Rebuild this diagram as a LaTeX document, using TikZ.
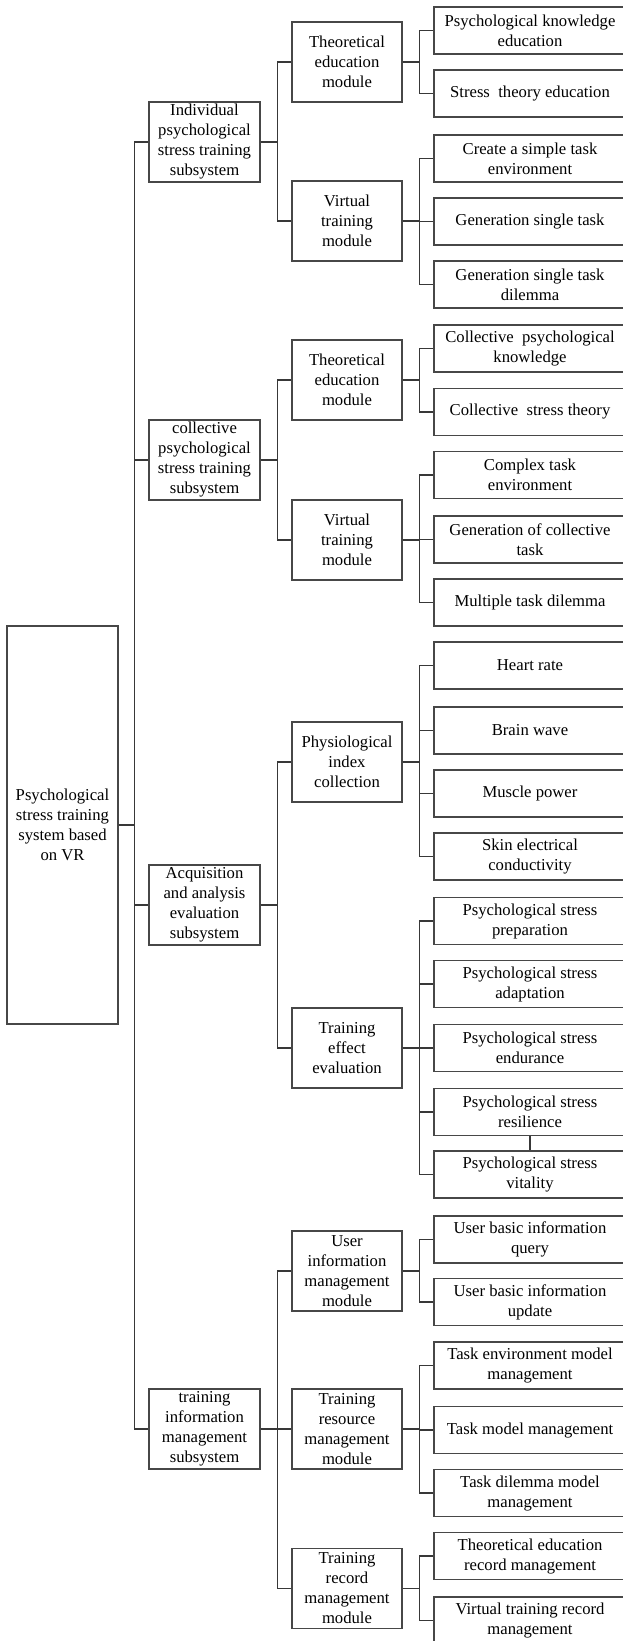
\documentclass[tikz,border=0pt]{standalone}
\usepackage{fontspec}
\setmainfont{Liberation Serif}
\newcommand\linkto[3]{\draw[conn] (#1.east) -- ++(#3,0) |- (#2.west);}
\begin{document}
\begin{tikzpicture}[x=0.75pt,y=-0.75pt,
  box/.style={draw=black!72, line width=0.9pt, align=center, inner sep=1pt,
    font=\fontsize{12.5}{15}\selectfont},
  rootbox/.style={box, minimum width=83.25pt, minimum height=298.5pt},
  subbox/.style={box, minimum width=83.25pt, minimum height=60pt},
  modbox/.style={box, minimum width=82.5pt, minimum height=60pt},
  leafbox/.style={box, minimum width=144pt, minimum height=35.25pt},
  conn/.style={draw=black!78, line width=1.2pt},
]
\useasboundingbox (0,0) rectangle (623,1641);
\clip (0,0) rectangle (623,1641);

% root
\node[rootbox] (root) at (62.5,825) {Psychological\\stress training\\system based\\on VR};

% subsystems
\node[subbox] (s1) at (204.5,142) {Individual\\psychological\\stress training\\subsystem};
\node[subbox] (s2) at (204.5,460) {collective\\psychological\\stress training\\subsystem};
\node[subbox] (s3) at (204.5,905) {Acquisition\\and analysis\\evaluation\\subsystem};
\node[subbox] (s4) at (204.5,1429) {training\\information\\management\\subsystem};

% modules
\node[modbox] (m1) at (347,62) {Theoretical\\education\\module};
\node[modbox] (m2) at (347,221) {Virtual\\training\\module};
\node[modbox] (m3) at (347,380) {Theoretical\\education\\module};
\node[modbox] (m4) at (347,540) {Virtual\\training\\module};
\node[modbox] (m5) at (347,762) {Physiological\\index\\collection};
\node[modbox] (m6) at (347,1048) {Training\\effect\\evaluation};
\node[modbox] (m7) at (347,1271) {User\\information\\management\\module};
\node[modbox] (m8) at (347,1429) {Training\\resource\\management\\module};
\node[modbox] (m9) at (347,1588.5) {Training\\record\\management\\module};

% leaves
\node[leafbox] (l1) at (530,30.5) {Psychological knowledge\\education};
\node[leafbox] (l2) at (530,93.5) {Stress\ \ theory education};
\node[leafbox] (l3) at (530,158.5) {Create a simple task\\environment};
\node[leafbox] (l4) at (530,221.5) {Generation single task};
\node[leafbox] (l5) at (530,284.5) {Generation single task\\dilemma};
\node[leafbox] (l6) at (530,348.5) {Collective\ \ psychological\\knowledge};
\node[leafbox] (l7) at (530,412) {Collective\ \ stress theory};
\node[leafbox] (l8) at (530,475) {Complex task\\environment};
\node[leafbox] (l9) at (530,539.5) {Generation of collective\\task};
\node[leafbox] (l10) at (530,602.5) {Multiple task dilemma};
\node[leafbox] (l11) at (530,665.5) {Heart rate};
\node[leafbox] (l12) at (530,730.5) {Brain wave};
\node[leafbox] (l13) at (530,793.5) {Muscle power};
\node[leafbox] (l14) at (530,856.5) {Skin electrical\\conductivity};
\node[leafbox] (l15) at (530,921) {Psychological stress\\preparation};
\node[leafbox] (l16) at (530,984) {Psychological stress\\adaptation};
\node[leafbox] (l17) at (530,1048) {Psychological stress\\endurance};
\node[leafbox] (l18) at (530,1112) {Psychological stress\\resilience};
\node[leafbox] (l19) at (530,1174.5) {Psychological stress\\vitality};
\node[leafbox] (l20) at (530,1239.5) {User basic information\\query};
\node[leafbox] (l21) at (530,1302) {User basic information\\update};
\node[leafbox] (l22) at (530,1365.5) {Task environment model\\management};
\node[leafbox] (l23) at (530,1430) {Task model management};
\node[leafbox] (l24) at (530,1493) {Task dilemma model\\management};
\node[leafbox] (l25) at (530,1556) {Theoretical education\\record management};
\node[leafbox] (l26) at (530,1620.5) {Virtual training record\\management};

% connectors: root -> subsystems
\foreach \c in {s1,s2,s3,s4} {\linkto{root}{\c}{16}}
% subsystems -> modules
\foreach \c in {m1,m2} {\linkto{s1}{\c}{17}}
\foreach \c in {m3,m4} {\linkto{s2}{\c}{17}}
\foreach \c in {m5,m6} {\linkto{s3}{\c}{17}}
\foreach \c in {m7,m8,m9} {\linkto{s4}{\c}{17}}
% modules -> leaves
\foreach \c in {l1,l2} {\linkto{m1}{\c}{17}}
\foreach \c in {l3,l4,l5} {\linkto{m2}{\c}{17}}
\foreach \c in {l6,l7} {\linkto{m3}{\c}{17}}
\foreach \c in {l8,l9,l10} {\linkto{m4}{\c}{17}}
\foreach \c in {l11,l12,l13,l14} {\linkto{m5}{\c}{17}}
\foreach \c in {l15,l16,l17,l18,l19} {\linkto{m6}{\c}{17}}
\foreach \c in {l20,l21} {\linkto{m7}{\c}{17}}
\foreach \c in {l22,l23,l24} {\linkto{m8}{\c}{17}}
\foreach \c in {l25,l26} {\linkto{m9}{\c}{17}}
% short link between resilience and vitality
\draw[conn, line width=1pt] (l18.south) -- (l19.north);
\end{tikzpicture}
\end{document}
